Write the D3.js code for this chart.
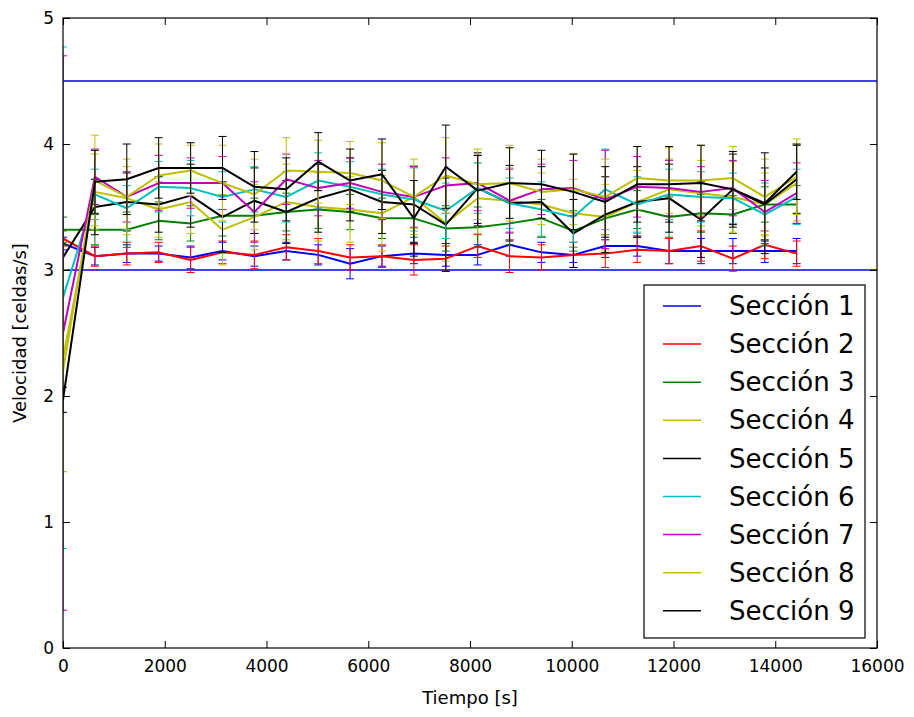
<!DOCTYPE html>
<html>
<head>
<meta charset="utf-8">
<script src="https://cdn.jsdelivr.net/npm/d3@7/dist/d3.min.js"></script>
<style>
  body { margin: 0; background: #fff; }
  text { font-family: "DejaVu Sans", sans-serif; fill: #000; }
</style>
</head>
<body>
<svg id="chart"></svg>
<script>
// tiempos de muestreo [s]
var tiempos = [0, 627, 1254, 1881, 2508, 3135, 3762, 4389, 5016, 5643, 6270, 6897,
  7524, 8151, 8778, 9405, 10032, 10659, 11286, 11913, 12540, 13167, 13794, 14421];

var nombres = ["Sección 1", "Sección 2", "Sección 3", "Sección 4", "Sección 5",
  "Sección 6", "Sección 7", "Sección 8", "Sección 9"];

// velocidades medias por seccion
var s1 = [3.21, 3.11, 3.13, 3.13, 3.10, 3.15, 3.11, 3.15, 3.12, 3.05, 3.11, 3.13, 3.12, 3.12, 3.20, 3.14, 3.12, 3.19, 3.19, 3.15, 3.15, 3.15, 3.15, 3.15];
var s2 = [3.25, 3.11, 3.13, 3.14, 3.08, 3.14, 3.12, 3.18, 3.15, 3.10, 3.11, 3.08, 3.09, 3.19, 3.11, 3.10, 3.12, 3.13, 3.16, 3.15, 3.19, 3.09, 3.20, 3.13];
var s3 = [3.32, 3.32, 3.32, 3.39, 3.37, 3.43, 3.43, 3.46, 3.48, 3.46, 3.41, 3.41, 3.33, 3.34, 3.37, 3.41, 3.31, 3.41, 3.48, 3.42, 3.45, 3.44, 3.52, 3.52];
var s4 = [2.30, 3.62, 3.57, 3.48, 3.54, 3.32, 3.42, 3.54, 3.50, 3.48, 3.45, 3.58, 3.37, 3.57, 3.55, 3.52, 3.45, 3.42, 3.54, 3.64, 3.61, 3.58, 3.52, 3.69];
var s5 = [3.10, 3.50, 3.54, 3.52, 3.59, 3.42, 3.55, 3.46, 3.57, 3.64, 3.54, 3.52, 3.36, 3.65, 3.53, 3.54, 3.29, 3.44, 3.54, 3.57, 3.40, 3.64, 3.52, 3.72];
var s6 = [2.78, 3.60, 3.49, 3.66, 3.65, 3.58, 3.64, 3.58, 3.71, 3.66, 3.60, 3.56, 3.47, 3.65, 3.53, 3.48, 3.42, 3.64, 3.52, 3.60, 3.58, 3.57, 3.44, 3.58];
var s7 = [2.50, 3.74, 3.58, 3.69, 3.69, 3.69, 3.46, 3.72, 3.65, 3.69, 3.62, 3.58, 3.67, 3.69, 3.55, 3.64, 3.65, 3.56, 3.66, 3.65, 3.62, 3.65, 3.46, 3.61];
var s8 = [2.20, 3.71, 3.58, 3.75, 3.79, 3.69, 3.60, 3.79, 3.78, 3.77, 3.71, 3.58, 3.75, 3.68, 3.69, 3.62, 3.64, 3.58, 3.73, 3.71, 3.71, 3.73, 3.58, 3.74];
var s9 = [1.97, 3.70, 3.72, 3.81, 3.81, 3.81, 3.66, 3.64, 3.86, 3.71, 3.76, 3.41, 3.82, 3.63, 3.69, 3.68, 3.62, 3.54, 3.68, 3.68, 3.69, 3.64, 3.53, 3.78];

// desviaciones (barras de error)
var e1 = [0.05, 0.07, 0.07, 0.06, 0.09, 0.07, 0.08, 0.07, 0.08, 0.12, 0.08, 0.08, 0.09, 0.08, 0.09, 0.08, 0.06, 0.09, 0.08, 0.10, 0.10, 0.10, 0.09, 0.10];
var e2 = [0.06, 0.08, 0.09, 0.08, 0.10, 0.09, 0.11, 0.10, 0.10, 0.10, 0.09, 0.12, 0.10, 0.09, 0.13, 0.10, 0.10, 0.11, 0.10, 0.10, 0.12, 0.10, 0.11, 0.10];
var e3 = [0.10, 0.12, 0.14, 0.15, 0.14, 0.16, 0.14, 0.15, 0.15, 0.14, 0.16, 0.15, 0.18, 0.16, 0.17, 0.15, 0.16, 0.17, 0.15, 0.16, 0.15, 0.15, 0.14, 0.15];
var e4 = [0.90, 0.30, 0.25, 0.22, 0.25, 0.28, 0.26, 0.30, 0.27, 0.26, 0.30, 0.25, 0.30, 0.28, 0.26, 0.25, 0.27, 0.26, 0.25, 0.24, 0.26, 0.28, 0.25, 0.30];
var e5 = [0.10, 0.22, 0.23, 0.22, 0.25, 0.28, 0.26, 0.25, 0.27, 0.25, 0.25, 0.30, 0.37, 0.28, 0.30, 0.28, 0.27, 0.30, 0.28, 0.27, 0.30, 0.28, 0.29, 0.27];
var e6 = [1.99, 0.20, 0.18, 0.20, 0.22, 0.20, 0.18, 0.20, 0.22, 0.20, 0.20, 0.25, 0.22, 0.20, 0.20, 0.22, 0.20, 0.32, 0.22, 0.20, 0.20, 0.20, 0.25, 0.22];
var e7 = [2.20, 0.22, 0.20, 0.22, 0.20, 0.21, 0.24, 0.20, 0.22, 0.20, 0.22, 0.24, 0.22, 0.22, 0.25, 0.20, 0.22, 0.39, 0.24, 0.22, 0.20, 0.22, 0.25, 0.24];
var e8 = [0.80, 0.36, 0.30, 0.25, 0.20, 0.30, 0.28, 0.26, 0.25, 0.25, 0.30, 0.30, 0.30, 0.28, 0.30, 0.26, 0.28, 0.30, 0.25, 0.26, 0.28, 0.25, 0.30, 0.30];
var e9 = [0.10, 0.25, 0.28, 0.24, 0.20, 0.25, 0.28, 0.25, 0.23, 0.25, 0.28, 0.30, 0.33, 0.28, 0.28, 0.27, 0.30, 0.28, 0.30, 0.30, 0.30, 0.30, 0.40, 0.22];

// limites de referencia
var referencias = [4.5, 3.0];

var xTicks = [0, 2000, 4000, 6000, 8000, 10000, 12000, 14000, 16000];
var yTicks = [0, 1, 2, 3, 4, 5];

var colores = ["#0000ff", "#ff0000", "#008000", "#bfbf00", "#000000",
  "#00bfbf", "#bf00bf", "#bfbf00", "#000000"];

var medias = [s1, s2, s3, s4, s5, s6, s7, s8, s9];
var errores = [e1, e2, e3, e4, e5, e6, e7, e8, e9];

var W = 914, H = 717;
var m = { top: 18, right: 37, bottom: 69, left: 63 };
var w = W - m.left - m.right, h = H - m.top - m.bottom;

var svg = d3.select("#chart").attr("width", W).attr("height", H);
var g = svg.append("g").attr("transform", "translate(" + m.left + "," + m.top + ")");

var x = d3.scaleLinear().domain([0, 16000]).range([0, w]);
var y = d3.scaleLinear().domain([0, 5]).range([h, 0]);

g.append("clipPath").attr("id", "area")
  .append("rect").attr("width", w).attr("height", h);

var plot = g.append("g").attr("clip-path", "url(#area)");

// lineas horizontales de referencia
plot.selectAll("line.ref").data(referencias).enter()
  .append("line")
  .attr("class", "ref")
  .attr("x1", x(0)).attr("x2", x(16000))
  .attr("y1", d => y(d)).attr("y2", d => y(d))
  .attr("stroke", "#0000ff").attr("stroke-width", 1.5);

var linea = d3.line()
  .x((d, i) => x(tiempos[i]))
  .y(d => y(d));

var cap = 4;
medias.forEach(function (serie, k) {
  var col = colores[k];
  var datos = serie.map((v, i) => ({ t: tiempos[i], v: v, e: errores[k][i] }));
  var eb = plot.append("g").attr("stroke", col).attr("stroke-width", 1);
  eb.selectAll("line.bar").data(datos).enter().append("line")
    .attr("x1", d => x(d.t)).attr("x2", d => x(d.t))
    .attr("y1", d => y(d.v - d.e)).attr("y2", d => y(d.v + d.e));
  eb.selectAll("line.top").data(datos).enter().append("line")
    .attr("x1", d => x(d.t) - cap).attr("x2", d => x(d.t) + cap)
    .attr("y1", d => y(d.v + d.e)).attr("y2", d => y(d.v + d.e));
  eb.selectAll("line.bot").data(datos).enter().append("line")
    .attr("x1", d => x(d.t) - cap).attr("x2", d => x(d.t) + cap)
    .attr("y1", d => y(d.v - d.e)).attr("y2", d => y(d.v - d.e));
  plot.append("path")
    .datum(serie)
    .attr("d", linea)
    .attr("fill", "none")
    .attr("stroke", col)
    .attr("stroke-width", 2)
    .attr("stroke-linejoin", "round");
});

// ejes (ticks hacia dentro, estilo clasico)
var ax = g.append("g").attr("transform", "translate(0," + h + ")")
  .call(d3.axisBottom(x).tickValues(xTicks).tickSize(-7).tickSizeOuter(0).tickPadding(12).tickFormat(d3.format("d")));
var ay = g.append("g")
  .call(d3.axisLeft(y).tickValues(yTicks).tickSize(-7).tickSizeOuter(0).tickPadding(9).tickFormat(d3.format("d")));
var at = g.append("g")
  .call(d3.axisTop(x).tickValues(xTicks).tickSize(-7).tickSizeOuter(0).tickFormat(""));
var ar = g.append("g").attr("transform", "translate(" + w + ",0)")
  .call(d3.axisRight(y).tickValues(yTicks).tickSize(-7).tickSizeOuter(0).tickFormat(""));

[ax, ay, at, ar].forEach(function (a) {
  a.select(".domain").remove();
  a.selectAll("text").style("font-size", "17px").attr("font-family", null);
  a.selectAll(".tick line").attr("stroke", "#000");
});

g.append("rect")
  .attr("width", w).attr("height", h)
  .attr("fill", "none").attr("stroke", "#000").attr("stroke-width", 1.2);

// titulos de ejes
g.append("text")
  .attr("x", w / 2).attr("y", h + 56)
  .attr("text-anchor", "middle")
  .style("font-size", "18px")
  .text("Tiempo [s]");

g.append("text")
  .attr("transform", "translate(" + (-37) + "," + (h / 2) + ") rotate(-90)")
  .attr("text-anchor", "middle")
  .style("font-size", "18px")
  .text("Velocidad [celdas/s]");

// leyenda
var leg = svg.append("g").attr("transform", "translate(644,285)");
leg.append("rect")
  .attr("width", 221).attr("height", 353)
  .attr("fill", "#fff").attr("stroke", "#000").attr("stroke-width", 1.2);

var item = leg.selectAll("g.item").data(nombres).enter()
  .append("g")
  .attr("transform", (d, i) => "translate(0," + (21 + i * 38.1) + ")");
item.append("line")
  .attr("x1", 19).attr("x2", 57)
  .attr("stroke", (d, i) => colores[i])
  .attr("stroke-width", 1.5);
item.append("text")
  .attr("x", 85).attr("dy", "0.35em")
  .style("font-size", "26px")
  .text(d => d);
</script>
</body>
</html>
